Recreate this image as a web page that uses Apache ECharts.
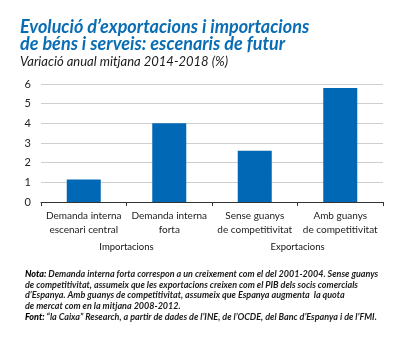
<!DOCTYPE html>
<html><head><meta charset="utf-8">
<script src="https://cdn.jsdelivr.net/npm/echarts@6/dist/echarts.min.js"></script>
<style>html,body{margin:0;padding:0;background:#fff}#c{width:399px;height:338px}</style>
</head><body><div id="c"></div>
<script>
const categories = ["Demanda interna\nescenari central", "Demanda interna\nforta", "Sense guanys\nde competitivitat", "Amb guanys\nde competitivitat"];
const groups = ["Importacions", "Exportacions"];
const values = [1.15, 4.0, 2.6, 5.8];
const yTicks = [0, 1, 2, 3, 4, 5, 6];

const FONT = "Lato, 'Noto Sans', sans-serif";
const chart = echarts.init(document.getElementById('c'), null, {renderer: 'canvas'});
chart.setOption({
  backgroundColor: '#fff',
  animation: false,
  title: [
    {text: "Evolució d’exportacions i importacions\nde béns i serveis: escenaris de futur", left: 15, top: 14,
     textStyle: {fontFamily: FONT, fontStyle: 'italic', fontWeight: 'bold', fontSize: 18, lineHeight: 17, color: '#0a6db4'}},
    {text: "Variació anual mitjana 2014-2018 (%)", left: 15, top: 50,
     textStyle: {fontFamily: FONT, fontStyle: 'italic', fontWeight: 'normal', fontSize: 13, color: '#1a1a1a'}},
    {text: "{b|Nota:} Demanda interna forta correspon a un creixement com el del 2001-2004. Sense guanys\nde competitivitat, assumeix que les exportacions creixen com el PIB dels socis comercials\nd’Espanya. Amb guanys de competitivitat, assumeix que Espanya augmenta  la quota\nde mercat com en la mitjana 2008-2012.\n{b|Font:} “la Caixa” Research, a partir de dades de l’INE, de l’OCDE, del Banc d’Espanya i de l’FMI.",
     left: 20, top: 264,
     textStyle: {fontFamily: FONT, fontStyle: 'italic', fontSize: 9, lineHeight: 10.6, color: '#1a1a1a',
       rich: {b: {fontFamily: FONT, fontStyle: 'italic', fontWeight: 900, fontSize: 9, lineHeight: 10.6, color: '#000'}}}}
  ],
  grid: {left: 41, right: 16, top: 84, bottom: 136, containLabel: false},
  xAxis: [
    {type: 'category', data: categories, boundaryGap: true,
     axisLine: {show: true, lineStyle: {color: '#333', width: 1}},
     axisTick: {show: true, length: 4, lineStyle: {color: '#333'}},
     axisLabel: {fontFamily: FONT, fontSize: 10, lineHeight: 14, color: '#222', margin: 7, interval: 0}},
    {type: 'category', data: groups, position: 'bottom', boundaryGap: true,
     axisLine: {show: false}, axisTick: {show: false}, splitLine: {show: false},
     axisLabel: {fontFamily: FONT, fontSize: 9.5, color: '#111', margin: 40, interval: 0}}
  ],
  yAxis: {type: 'value', min: yTicks[0], max: yTicks[yTicks.length - 1], interval: 1,
    axisLine: {show: false}, axisTick: {show: false},
    splitLine: {lineStyle: {color: '#cfcfcf', width: 1}},
    axisLabel: {fontFamily: FONT, fontSize: 11, color: '#222', margin: 10}},
  series: [{type: 'bar', data: values, barWidth: 34, itemStyle: {color: '#0068b4'}, xAxisIndex: 0}]
});
</script></body></html>
